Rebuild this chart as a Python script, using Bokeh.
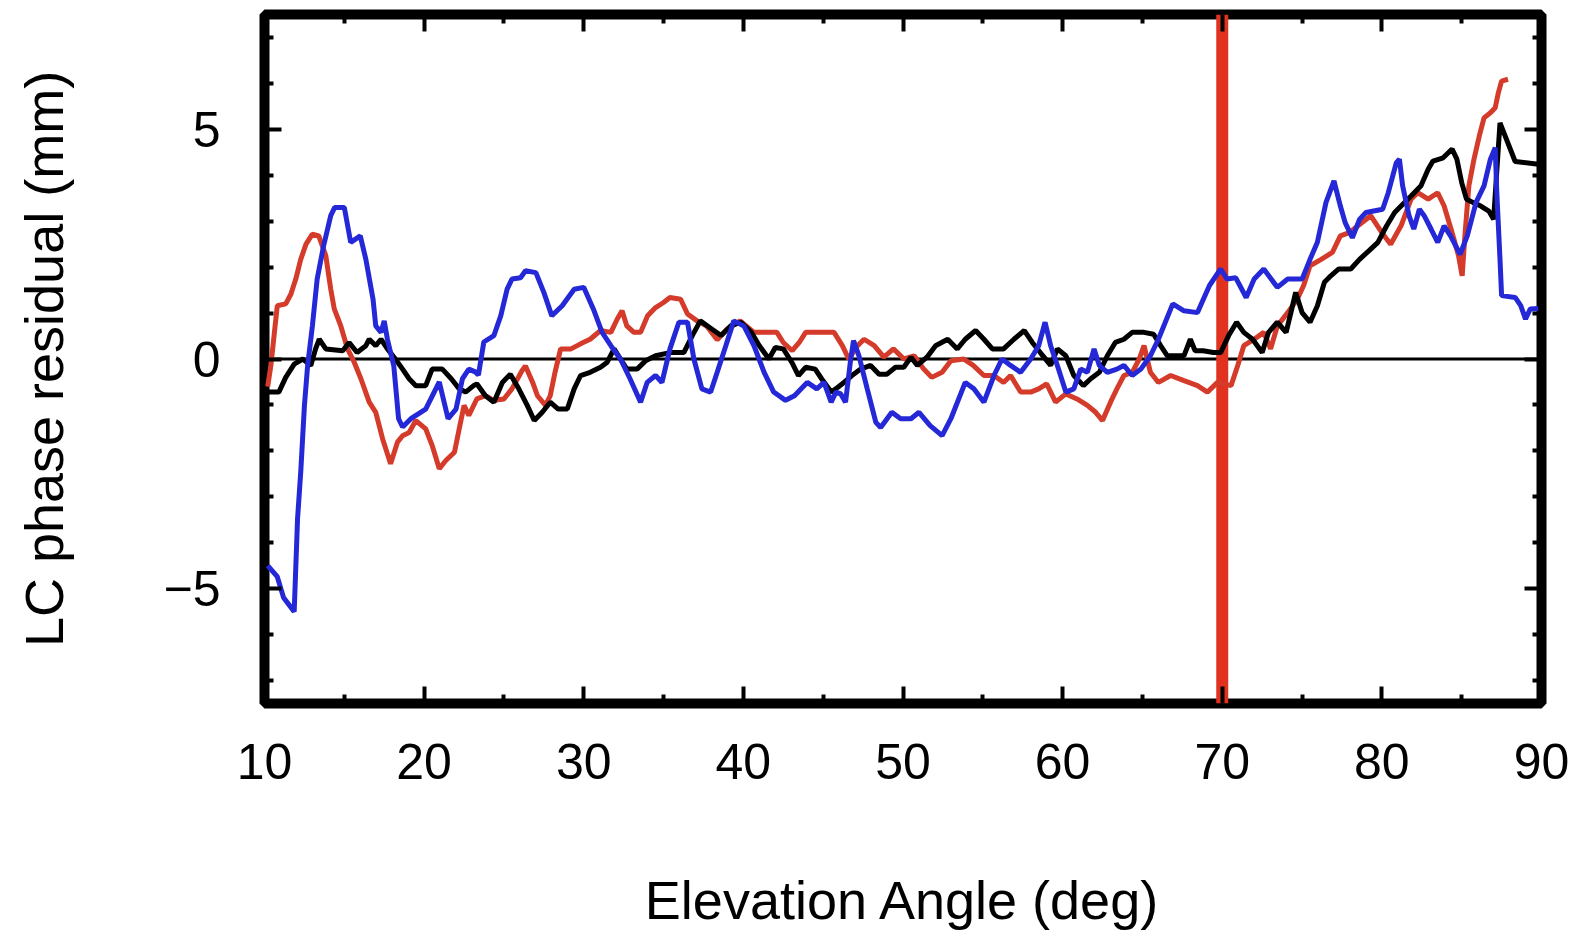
from bokeh.plotting import figure
from bokeh.models import Span, LinearAxis, FixedTicker, CustomJSTickFormatter, Range1d
from bokeh.embed import file_html
from bokeh.resources import INLINE

# ---------------- data ----------------
black_x = [10.2, 10.9, 11.33, 11.86, 12.4, 12.9, 13.2, 13.43, 13.84, 14.9, 15.3, 15.8, 16.35, 16.56,
           16.97, 17.3, 17.7, 18.2, 18.65, 19.06, 19.48, 20.1, 20.5, 21.14, 21.7, 22.2, 22.6, 23.1,
           23.3, 23.84, 24.37, 24.9, 25.4, 25.93, 26.46, 26.9, 27.4, 27.9, 28.4, 28.97, 29.4, 29.8,
           30.4, 31.05, 31.47, 31.9, 32.3, 32.7, 33.34, 33.87, 34.5, 35.4, 36.27, 36.8, 37.3, 37.95,
           38.6, 39.2, 39.85, 40.5, 41.0, 41.6, 42.0, 42.5, 43.03, 43.45, 43.9, 44.5, 44.9, 45.5,
           45.9, 46.3, 46.8, 47.35, 47.97, 48.5, 49.0, 49.53, 50.05, 50.5, 50.9, 51.5, 52.04, 52.8,
           53.4, 53.9, 54.55, 55.07, 55.6, 56.3, 56.95, 57.6, 58.1, 58.6, 59.25, 59.67, 60.2, 60.7,
           61.3, 61.76, 62.3, 62.8, 63.3, 63.84, 64.36, 65.1, 65.7, 66.14, 66.56, 67.6, 68.0, 68.3,
           68.8, 69.45, 69.9, 70.4, 70.9, 71.35, 71.9, 72.5, 72.9, 73.45, 74.0, 74.3, 74.6, 75.0,
           75.5, 75.96, 76.4, 76.8, 77.3, 78.05, 78.6, 79.2, 79.75, 80.3, 80.8, 81.2, 81.83, 82.45,
           82.9, 83.2, 83.84, 84.4, 84.7, 85.0, 85.3, 85.7, 86.2, 86.7, 87.0, 87.4, 88.35, 89.8]
black_y = [-0.72, -0.72, -0.4, -0.11, 0.0, -0.14, 0.22, 0.43, 0.22, 0.18, 0.36, 0.14, 0.29, 0.43,
           0.29, 0.43, 0.22, 0.0, -0.22, -0.43, -0.58, -0.58, -0.22, -0.22, -0.43, -0.65, -0.72, -0.58,
           -0.54, -0.8, -0.94, -0.51, -0.33, -0.65, -1.01, -1.34, -1.16, -0.94, -1.09, -1.09, -0.65, -0.36,
           -0.29, -0.18, -0.07, 0.22, 0.0, -0.22, -0.22, -0.04, 0.07, 0.14, 0.14, 0.51, 0.83, 0.67,
           0.51, 0.72, 0.8, 0.58, 0.29, 0.0, 0.25, 0.22, -0.07, -0.36, -0.18, -0.22, -0.43, -0.72,
           -0.62, -0.51, -0.36, -0.22, -0.14, -0.33, -0.33, -0.18, -0.18, 0.04, -0.14, 0.04, 0.29, 0.43,
           0.22, 0.43, 0.62, 0.43, 0.22, 0.22, 0.43, 0.62, 0.36, 0.14, -0.14, 0.22, 0.07, -0.36,
           -0.58, -0.43, -0.29, 0.07, 0.36, 0.43, 0.58, 0.58, 0.54, 0.29, 0.07, 0.07, 0.43, 0.18,
           0.18, 0.14, 0.14, 0.51, 0.8, 0.58, 0.43, 0.14, 0.58, 0.8, 0.58, 1.01, 1.45, 1.01,
           0.8, 1.16, 1.67, 1.81, 1.96, 1.96, 2.17, 2.36, 2.54, 2.9, 3.19, 3.33, 3.55, 3.77,
           4.13, 4.31, 4.38, 4.57, 4.35, 3.84, 3.48, 3.41, 3.33, 3.22, 3.04, 5.14, 4.3, 4.24]

red_x = [10.2, 10.4, 10.6, 10.8, 11.33, 11.65, 11.96, 12.27, 12.6, 13.0, 13.4, 13.84, 14.15, 14.37,
         14.78, 15.2, 15.62, 16.04, 16.56, 16.97, 17.4, 17.9, 18.33, 18.65, 19.06, 19.48, 20.1, 20.5,
         20.95, 21.36, 21.9, 22.2, 22.5, 22.8, 23.3, 23.84, 24.37, 25.0, 25.5, 26.14, 26.35, 26.8,
         27.1, 27.6, 27.9, 28.2, 28.55, 29.2, 29.8, 30.4, 31.05, 31.7, 32.1, 32.4, 32.7, 33.14,
         33.56, 34.0, 34.5, 35.0, 35.4, 36.07, 36.5, 37.1, 37.7, 38.36, 38.98, 39.8, 40.66, 41.5,
         42.1, 42.5, 43.06, 43.5, 43.9, 44.84, 45.68, 46.2, 46.6, 47.15, 47.56, 48.2, 48.8, 49.4,
         50.06, 50.7, 51.3, 51.8, 52.45, 53.0, 53.8, 54.4, 55.07, 55.7, 56.3, 56.74, 57.37, 58.0,
         58.5, 59.0, 59.56, 60.2, 60.9, 61.55, 62.07, 62.5, 63.0, 63.4, 63.84, 64.36, 64.8, 65.1,
         65.3, 65.5, 66.0, 66.77, 67.6, 68.45, 69.07, 69.7, 70.55, 70.97, 71.35, 72.0, 72.6, 73.03,
         73.45, 74.1, 74.7, 75.1, 75.5, 76.2, 76.9, 77.4, 77.96, 78.5, 79.3, 80.0, 80.55, 81.2,
         81.83, 82.25, 82.9, 83.5, 83.9, 84.4, 84.8, 85.03, 85.2, 85.45, 85.77, 86.1, 86.4, 86.8,
         87.1, 87.3, 87.5, 87.9]
red_y = [-0.6, -0.14, 0.51, 1.16, 1.2, 1.41, 1.74, 2.17, 2.5, 2.72, 2.68, 2.25, 1.52, 1.09,
         0.72, 0.22, -0.07, -0.43, -0.94, -1.16, -1.74, -2.28, -1.81, -1.67, -1.6, -1.34, -1.52, -1.88,
         -2.39, -2.21, -2.03, -1.52, -1.01, -1.23, -0.87, -0.8, -0.9, -0.87, -0.65, -0.25, -0.15, -0.51,
         -0.8, -1.01, -0.8, -0.29, 0.22, 0.22, 0.33, 0.43, 0.62, 0.58, 0.87, 1.05, 0.72, 0.58,
         0.58, 0.94, 1.12, 1.23, 1.34, 1.3, 0.98, 0.83, 0.72, 0.42, 0.65, 0.83, 0.58, 0.58,
         0.58, 0.36, 0.18, 0.36, 0.58, 0.58, 0.58, 0.29, 0.0, 0.29, 0.43, 0.29, 0.04, 0.22,
         0.0, 0.07, -0.22, -0.4, -0.29, -0.04, 0.0, -0.14, -0.36, -0.36, -0.51, -0.36, -0.72, -0.72,
         -0.65, -0.54, -0.94, -0.76, -0.87, -1.01, -1.16, -1.34, -0.94, -0.65, -0.36, -0.29, 0.0, 0.29,
         0.0, -0.29, -0.51, -0.36, -0.47, -0.58, -0.72, -0.51, -0.58, -0.14, 0.29, 0.43, 0.58, 0.22,
         0.72, 1.01, 1.3, 1.6, 2.03, 2.17, 2.32, 2.68, 2.75, 2.9, 3.12, 2.75, 2.5, 2.9,
         3.48, 3.62, 3.48, 3.62, 3.33, 2.75, 2.25, 1.81, 2.68, 3.77, 4.35, 4.85, 5.25, 5.36,
         5.47, 5.8, 6.05, 6.09]

blue_x = [10.2, 10.8, 11.2, 11.86, 12.07, 12.27, 12.5, 12.7, 13.0, 13.3, 13.7, 14.15, 14.4, 15.0,
          15.4, 16.0, 16.35, 16.8, 16.97, 17.3, 17.5, 17.7, 18.1, 18.4, 18.65, 19.17, 20.1, 20.95,
          21.5, 22.0, 22.4, 22.8, 23.2, 23.4, 23.74, 24.37, 24.8, 25.2, 25.5, 26.04, 26.35, 27.0,
          27.5, 28.0, 28.65, 29.4, 30.0, 30.6, 31.15, 31.7, 32.3, 32.9, 33.56, 33.97, 34.5, 34.9,
          35.4, 35.96, 36.5, 36.9, 37.4, 37.95, 38.36, 38.9, 39.4, 40.03, 40.66, 41.3, 41.9, 42.64,
          43.2, 44.0, 44.6, 45.05, 45.5, 45.8, 46.1, 46.4, 46.7, 46.9, 47.24, 47.76, 48.3, 48.6,
          49.3, 49.85, 50.5, 51.0, 51.7, 52.45, 53.0, 53.9, 54.44, 55.07, 55.7, 56.2, 56.74, 57.37,
          58.0, 58.5, 58.9, 59.25, 59.67, 60.2, 60.7, 61.13, 61.55, 61.97, 62.3, 62.8, 63.4, 63.84,
          64.36, 64.9, 65.5, 66.0, 66.9, 67.6, 68.45, 69.2, 69.9, 70.3, 70.84, 71.5, 72.0, 72.6,
          73.45, 74.1, 75.0, 75.5, 75.96, 76.5, 77.0, 77.4, 77.7, 78.15, 78.6, 79.0, 80.05, 80.4,
          80.9, 81.1, 81.3, 81.7, 82.0, 82.35, 82.65, 83.08, 83.5, 83.9, 84.3, 84.9, 85.35, 85.9,
          86.4, 86.8, 87.1, 87.2, 87.4, 87.5, 88.35, 88.7, 89.0, 89.3, 89.8]
blue_y = [-4.5, -4.74, -5.2, -5.5, -3.48, -2.46, -1.02, -0.15, 0.72, 1.74, 2.46, 3.12, 3.3, 3.3,
          2.54, 2.68, 2.17, 1.3, 0.72, 0.58, 0.83, 0.43, -0.15, -1.3, -1.48, -1.3, -1.09, -0.5,
          -1.3, -1.09, -0.43, -0.22, -0.28, -0.35, 0.37, 0.51, 0.94, 1.52, 1.74, 1.77, 1.92, 1.88,
          1.45, 0.94, 1.16, 1.52, 1.56, 1.09, 0.58, 0.29, 0.0, -0.43, -0.94, -0.51, -0.36, -0.51,
          0.22, 0.8, 0.8, 0.0, -0.65, -0.72, -0.29, 0.29, 0.83, 0.72, 0.29, -0.29, -0.72, -0.9,
          -0.8, -0.51, -0.65, -0.51, -0.94, -0.72, -0.76, -0.94, -0.07, 0.4, 0.07, -0.65, -1.38, -1.49,
          -1.16, -1.3, -1.3, -1.16, -1.45, -1.67, -1.3, -0.51, -0.65, -0.94, -0.36, 0.0, -0.14, -0.29,
          0.0, 0.29, 0.8, 0.29, -0.14, -0.72, -0.65, -0.22, -0.29, 0.22, -0.14, -0.29, -0.22, -0.14,
          -0.36, -0.22, 0.07, 0.43, 1.2, 1.05, 1.01, 1.6, 1.96, 1.74, 1.77, 1.34, 1.74, 1.96,
          1.56, 1.74, 1.74, 2.17, 2.54, 3.41, 3.88, 3.33, 2.97, 2.64, 3.04, 3.19, 3.26, 3.62,
          4.27, 4.35, 3.77, 3.12, 2.83, 3.26, 3.12, 2.83, 2.54, 2.9, 2.68, 2.28, 2.68, 3.41,
          3.77, 4.35, 4.6, 3.62, 2.17, 1.38, 1.34, 1.16, 0.87, 1.09, 1.1]

x_ticks = [10, 20, 30, 40, 50, 60, 70, 80, 90]
x_minor = [15, 25, 35, 45, 55, 65, 75, 85]
y_ticks = [-5, 0, 5]
y_minor = [-7, -6, -4, -3, -2, -1, 1, 2, 3, 4, 6, 7]
y_tick_labels = {-5: "\u22125", 0: "0", 5: "5"}
x_range = (10, 90)
y_range = (-7.5, 7.5)
reference_level = 0
marked_elevation = 70
x_title = "Elevation Angle (deg)"
y_title = "LC phase residual (mm)"

# ---------------- figure ----------------
FONT = "Liberation Sans"
p = figure(width=1578, height=933, output_backend="svg", toolbar_location=None,
           x_range=Range1d(*x_range), y_range=Range1d(*y_range),
           min_border_left=264, min_border_right=37, min_border_top=14, min_border_bottom=230,
           x_axis_label=x_title, y_axis_label=y_title)
p.background_fill_color = "white"
p.border_fill_color = "white"
p.grid.visible = False
p.outline_line_color = "black"
p.outline_line_width = 10

def style_axis(ax, ticks, minor):
    ax.ticker = FixedTicker(ticks=ticks, minor_ticks=minor)
    ax.axis_line_color = None
    ax.major_tick_in = 17
    ax.major_tick_out = 0
    ax.major_tick_line_width = 4
    ax.major_tick_line_color = "black"
    ax.minor_tick_in = 9
    ax.minor_tick_out = 0
    ax.minor_tick_line_width = 4
    ax.minor_tick_line_color = "black"
    ax.major_label_text_font = FONT
    ax.major_label_text_font_size = "50px"
    ax.major_label_text_color = "black"
    ax.axis_label_text_font = FONT
    ax.axis_label_text_font_size = "54px"
    ax.axis_label_text_font_style = "normal"
    ax.axis_label_text_color = "black"

xa = p.xaxis[0]
ya = p.yaxis[0]
style_axis(xa, x_ticks, x_minor)
style_axis(ya, y_ticks, y_minor)
xa.major_label_standoff = 40
xa.axis_label_standoff = 88
xa.axis_label_text_line_height = 1.0
ya.major_label_standoff = 44
ya.axis_label_standoff = 86
ya.major_label_overrides = y_tick_labels

blank = CustomJSTickFormatter(code="return ''")
top = LinearAxis(formatter=blank)
style_axis(top, x_ticks, x_minor)
top.major_label_text_font_size = "1px"
top.major_label_standoff = 0
p.add_layout(top, "above")
right = LinearAxis(formatter=blank)
style_axis(right, y_ticks, y_minor)
right.major_label_text_font_size = "1px"
right.major_label_standoff = 0
p.add_layout(right, "right")

zero = Span(location=reference_level, dimension="width", line_color="black", line_width=3, level="underlay")
mark = Span(location=marked_elevation, dimension="height", line_color="#e0321f", line_width=12, level="underlay")
p.add_layout(zero)
p.add_layout(mark)

p.line(red_x, red_y, line_color="#d43b2a", line_width=5)
p.line(black_x, black_y, line_color="black", line_width=5)
p.line(blue_x, blue_y, line_color="#2528d6", line_width=5)

open("out.html", "w").write(file_html(p, INLINE))
